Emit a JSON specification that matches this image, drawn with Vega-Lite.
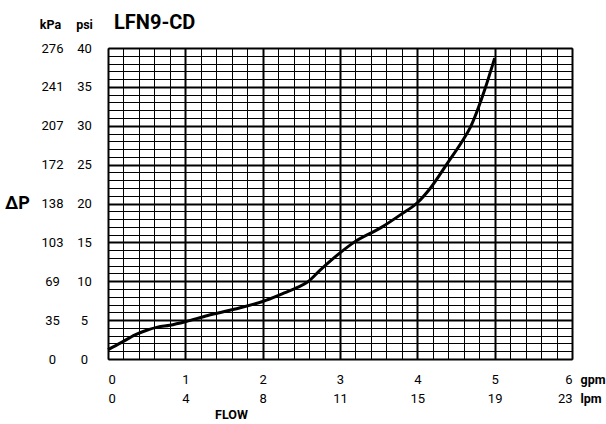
{
  "$schema": "https://vega.github.io/schema/vega-lite/v6.json",
  "width": 464,
  "height": 311,
  "autosize": {"type": "none"},
  "padding": {"left": 108, "top": 48, "right": 34, "bottom": 65},
  "background": "white",
  "title": {"text": "LFN9-CD", "anchor": "start", "frame": "group", "dx": 6, "offset": -31, "baseline": "alphabetic", "fontSize": 20, "fontWeight": "bold", "font": "Roboto", "color": "#000"},
  "config": {
    "view": {"stroke": null},
    "axis": {"labelFont": "Roboto", "titleFont": "Roboto", "labelColor": "#000", "titleColor": "#000", "labelFontSize": 13, "titleFontSize": 12.5, "titleFontWeight": "bold", "domain": false, "ticks": false, "tickSize": 0, "gridColor": "#000", "gridOpacity": 1, "labelOverlap": false, "offset": 0}
  },
  "data": {"values": [
    {"gpm": 0, "psi": 1.2},
    {"gpm": 0.17, "psi": 2.1},
    {"gpm": 0.35, "psi": 3.1},
    {"gpm": 0.5, "psi": 3.7},
    {"gpm": 0.64, "psi": 4.1},
    {"gpm": 0.8, "psi": 4.35},
    {"gpm": 1.0, "psi": 4.8},
    {"gpm": 1.29, "psi": 5.6},
    {"gpm": 1.63, "psi": 6.4},
    {"gpm": 2.0, "psi": 7.4},
    {"gpm": 2.28, "psi": 8.5},
    {"gpm": 2.45, "psi": 9.2},
    {"gpm": 2.58, "psi": 9.9},
    {"gpm": 2.75, "psi": 11.5},
    {"gpm": 3.0, "psi": 13.65},
    {"gpm": 3.18, "psi": 15.0},
    {"gpm": 3.53, "psi": 16.9},
    {"gpm": 3.79, "psi": 18.6},
    {"gpm": 4.0, "psi": 20.1},
    {"gpm": 4.17, "psi": 22.0},
    {"gpm": 4.39, "psi": 25.2},
    {"gpm": 4.58, "psi": 28.0},
    {"gpm": 4.69, "psi": 29.9},
    {"gpm": 4.87, "psi": 34.6},
    {"gpm": 5.0, "psi": 38.7}
  ]},
  "layer": [
    {
      "mark": {"type": "line", "strokeOpacity": 0},
      "encoding": {
        "x": {"field": "gpm", "type": "quantitative", "scale": {"domain": [0, 6], "nice": false, "zero": false},
          "axis": {"orient": "bottom", "values": [0,0.2,0.4,0.6,0.8,1,1.2,1.4,1.6,1.8,2,2.2,2.4,2.6,2.8,3,3.2,3.4,3.6,3.8,4,4.2,4.4,4.6,4.8,5,5.2,5.4,5.6,5.8,6], "labels": false, "grid": true, "gridWidth": 1, "title": "FLOW", "titleX": 123, "titleY": 59, "titleAlign": "center", "titleBaseline": "alphabetic", "offset": 0}},
        "y": {"field": "psi", "type": "quantitative", "scale": {"domain": [0, 40], "nice": false},
          "axis": {"orient": "left", "values": [0,1,2,3,4,5,6,7,8,9,10,11,12,13,14,15,16,17,18,19,20,21,22,23,24,25,26,27,28,29,30,31,32,33,34,35,36,37,38,39,40], "labels": false, "grid": true, "gridWidth": 1, "title": "ΔP", "titleAngle": 0, "titleX": -91, "titleY": 160, "titleAlign": "center", "titleBaseline": "alphabetic", "titleFontSize": 18, "offset": 0}}
      }
    },
    {
      "mark": {"type": "line", "strokeOpacity": 0},
      "encoding": {
        "x": {"field": "gpm", "type": "quantitative", "scale": {"domain": [0, 6], "nice": false, "zero": false},
          "axis": {"orient": "bottom", "values": [0,1,2,3,4,5,6], "grid": false, "labelExpr": "format(datum.value * 3.785, '.0f')", "labelPadding": 43, "labelBaseline": "alphabetic", "labelFlush": true, "title": "lpm", "titleX": 472, "titleY": 43, "titleAlign": "left", "titleBaseline": "alphabetic", "offset": 0}},
        "y": {"field": "psi", "type": "quantitative", "scale": {"domain": [0, 40], "nice": false},
          "axis": {"orient": "left", "values": [0,5,10,15,20,25,30,35,40], "grid": false, "labelExpr": "datum.value == 5 ? '35' : format(datum.value * 6.895, '.0f')", "labelPadding": 56, "labelAlign": "center", "labelBaseline": "middle", "labelFlush": false, "title": "kPa", "titleAngle": 0, "titleX": -58, "titleY": -20, "titleAlign": "center", "titleBaseline": "alphabetic", "offset": 0}}
      }
    },
    {
      "mark": {"type": "line", "stroke": "#000", "strokeWidth": 3, "interpolate": "monotone"},
      "encoding": {
        "x": {"field": "gpm", "type": "quantitative", "scale": {"domain": [0, 6], "nice": false, "zero": false},
          "axis": {"orient": "bottom", "values": [0,1,2,3,4,5,6], "grid": true, "gridWidth": 2, "labelPadding": 24, "labelBaseline": "alphabetic", "labelFlush": true, "title": "gpm", "titleX": 472, "titleY": 24, "titleAlign": "left", "titleBaseline": "alphabetic", "offset": 0}},
        "y": {"field": "psi", "type": "quantitative", "scale": {"domain": [0, 40], "nice": false},
          "axis": {"orient": "left", "values": [0,5,10,15,20,25,30,35,40], "grid": true, "gridWidth": 2, "labelPadding": 24, "labelAlign": "center", "labelBaseline": "middle", "labelFlush": false, "title": "psi", "titleAngle": 0, "titleX": -24, "titleY": -20, "titleAlign": "center", "titleBaseline": "alphabetic", "offset": 0}}
      }
    }
  ],
  "resolve": {"scale": {"x": "independent", "y": "independent"}, "axis": {"x": "independent", "y": "independent"}}
}
